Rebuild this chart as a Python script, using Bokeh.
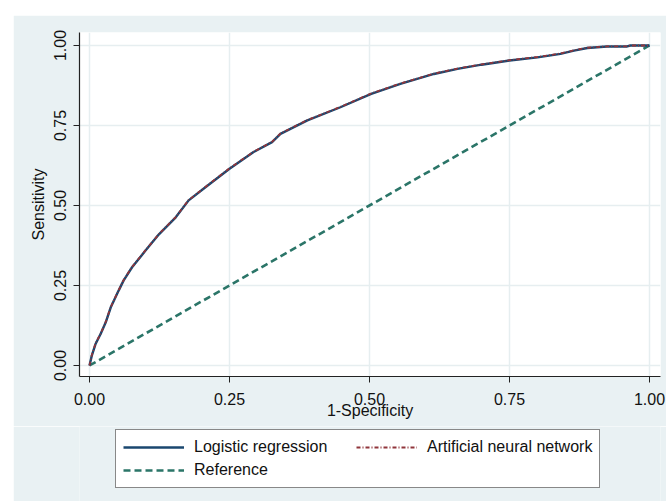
from bokeh.plotting import figure
from bokeh.models import Range1d, FixedTicker, NumeralTickFormatter, Legend, LegendItem, Spacer
from bokeh.layouts import column, row
from bokeh.embed import file_html
from bokeh.resources import INLINE

# ROC data
fpr_lr = [0, 0.004, 0.011, 0.020, 0.029, 0.038, 0.052, 0.061, 0.076, 0.100, 0.124, 0.154,
          0.177, 0.207, 0.250, 0.293, 0.326, 0.341, 0.389, 0.448, 0.503, 0.555, 0.615,
          0.657, 0.700, 0.750, 0.800, 0.841, 0.865, 0.889, 0.924, 0.960, 0.966, 1.0]
tpr_lr = [0, 0.030, 0.068, 0.099, 0.135, 0.182, 0.234, 0.266, 0.307, 0.359, 0.410, 0.463,
          0.516, 0.557, 0.615, 0.667, 0.698, 0.724, 0.766, 0.807, 0.849, 0.880, 0.911,
          0.927, 0.940, 0.953, 0.963, 0.974, 0.984, 0.992, 0.997, 0.997, 1.0, 1.0]
fpr_ann = [0, 0.004, 0.011, 0.020, 0.029, 0.038, 0.052, 0.061, 0.076, 0.100, 0.124, 0.154,
           0.177, 0.207, 0.250, 0.293, 0.326, 0.341, 0.389, 0.448, 0.503, 0.555, 0.615,
           0.657, 0.700, 0.750, 0.800, 0.841, 0.865, 0.889, 0.924, 0.960, 0.966, 1.0]
tpr_ann = [0, 0.032, 0.070, 0.100, 0.136, 0.183, 0.235, 0.267, 0.308, 0.360, 0.411, 0.464,
           0.517, 0.558, 0.616, 0.668, 0.699, 0.725, 0.767, 0.808, 0.850, 0.881, 0.912,
           0.928, 0.941, 0.954, 0.964, 0.975, 0.985, 0.993, 0.997, 0.997, 1.0, 1.0]
ref_x = [0.0, 1.0]
ref_y = [0.0, 1.0]
ticks = [0.0, 0.25, 0.5, 0.75, 1.0]
series_labels = ["Logistic regression", "Artificial neural network", "Reference"]

BG = "#E9F1F3"
FONT = "Liberation Sans"
C_LR, C_ANN, C_REF = "#1A476F", "#90353B", "#2B7568"
STY_LR = dict(line_color=C_LR, line_width=2.4)
STY_ANN = dict(line_color=C_ANN, line_width=1.8, line_dash="4 2 1 2")
STY_REF = dict(line_color=C_REF, line_width=2.6, line_dash="7 4")

p = figure(width=653, height=411, output_backend="svg", toolbar_location=None,
           x_range=Range1d(-0.01786, 1.01964), y_range=Range1d(-0.0344, 1.0406),
           min_border_left=66, min_border_right=6, min_border_top=17, min_border_bottom=50)
p.background_fill_color = "white"
p.border_fill_color = BG
p.outline_line_color = None

for ax in (p.xaxis[0], p.yaxis[0]):
    ax.ticker = FixedTicker(ticks=ticks)
    ax.formatter = NumeralTickFormatter(format="0.00")
    ax.axis_line_color = "#222222"
    ax.axis_line_width = 1.2
    ax.major_tick_line_color = "#222222"
    ax.major_tick_in = 0
    ax.major_tick_out = 6
    ax.minor_tick_line_color = None
    ax.major_label_text_font = FONT
    ax.major_label_text_font_size = "16px"
    ax.major_label_text_color = "#111111"
    ax.axis_label_text_font = FONT
    ax.axis_label_text_font_size = "16px"
    ax.axis_label_text_font_style = "normal"
    ax.axis_label_text_color = "#111111"

p.xaxis.axis_label = "1-Specificity"
p.yaxis.axis_label = "Sensitivity"
p.xaxis.major_label_standoff = 10
p.xaxis.axis_label_standoff = -6
p.yaxis.major_label_orientation = "vertical"
p.yaxis.major_label_standoff = 7
p.yaxis.axis_label_standoff = 5

p.xgrid.ticker = FixedTicker(ticks=ticks)
p.ygrid.ticker = FixedTicker(ticks=ticks)
p.grid.grid_line_color = "#E6EEF0"
p.grid.grid_line_width = 1.5

p.line(ref_x, ref_y, **STY_REF)
p.line(fpr_lr, tpr_lr, **STY_LR)
p.line(fpr_ann, tpr_ann, **STY_ANN)

# legend strip below the plot (same background); its renderers lie outside its view
q = figure(width=653, height=75, output_backend="svg", toolbar_location=None,
           x_range=Range1d(5, 6), y_range=Range1d(5, 6),
           min_border_left=0, min_border_right=0, min_border_top=0, min_border_bottom=0)
q.axis.visible = False
q.grid.visible = False
q.outline_line_color = None
q.background_fill_color = BG
q.border_fill_color = BG
k_lr = q.line(fpr_lr, tpr_lr, **STY_LR)
k_ann = q.line(fpr_ann, tpr_ann, **STY_ANN)
k_ref = q.line(ref_x, ref_y, **STY_REF)

legend = Legend(items=[LegendItem(label=series_labels[0], renderers=[k_lr]),
                       LegendItem(label=series_labels[1], renderers=[k_ann]),
                       LegendItem(label=series_labels[2], renderers=[k_ref])],
                location=(36, 13), orientation="horizontal", ncols=2)
legend.label_text_font = FONT
legend.label_text_font_size = "16px"
legend.label_text_color = "#111111"
legend.glyph_width = 61
legend.glyph_height = 20
legend.label_height = 20
legend.label_width = 159
legend.label_standoff = 10
legend.spacing = 3
legend.padding = 7
legend.margin = 0
legend.border_line_color = "#111111"
legend.border_line_width = 1.2
legend.background_fill_color = "white"
legend.background_fill_alpha = 1.0
q.add_layout(legend, "center")

layout = column(Spacer(width=666, height=15, sizing_mode="fixed"),
                row(Spacer(width=13, height=486, sizing_mode="fixed"),
                    column(p, q, spacing=0), spacing=0),
                spacing=0)
open("out.html", "w").write(file_html(layout, INLINE))
